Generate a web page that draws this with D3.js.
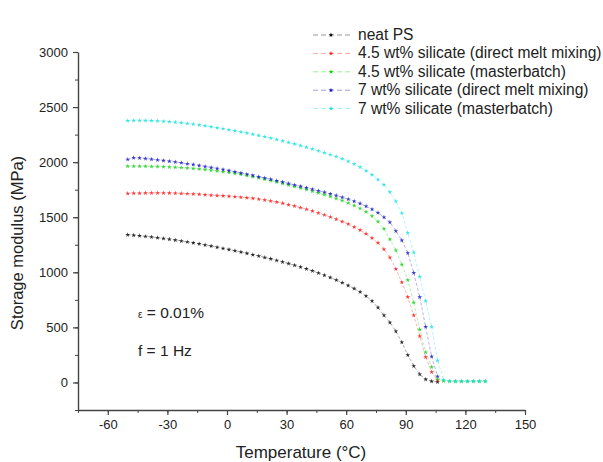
<!DOCTYPE html>
<html>
<head>
<meta charset="utf-8">
<title>Storage modulus</title>
<script src="https://d3js.org/d3.v7.min.js"></script>
<style>
  body { margin: 0; background: #fff; }
  text { font-family: "Liberation Sans", Arial, sans-serif; fill: #222; }
</style>
</head>
<body>
<script>
// temperatures (°C)
var temps = [-50,-47,-44,-41,-38,-35,-32,-29,-26,-23,-20,-17,-14,-11,-8,-5,-2,1,4,7,10,13,16,19,22,25,28,31,34,37,40,43,46,49,52,55,58,61,64,67,70,73,76,79,82,85,88,91,94,97,100,103,106];
var tailTemps = [109,112,115,118,121,124,127,130];

var neatPS = [1340,1336,1331,1326,1320,1314,1307,1300,1292,1284,1276,1267,1258,1248,1238,1228,1217,1206,1195,1184,1172,1160,1148,1135,1122,1108,1094,1079,1064,1048,1031,1013,994,974,953,930,906,880,852,822,785,740,680,610,545,465,365,250,150,75,28,10,4];
var direct45 = [1715,1717,1718,1719,1720,1720,1720,1719,1718,1716,1714,1711,1708,1704,1700,1697,1694,1690,1686,1682,1677,1671,1664,1656,1647,1637,1626,1614,1601,1587,1572,1556,1539,1521,1502,1482,1460,1438,1412,1383,1350,1312,1268,1210,1135,1030,910,775,610,420,230,95,20];
var master45 = [1962,1963,1963,1962,1961,1960,1958,1956,1953,1950,1946,1942,1937,1932,1926,1920,1913,1906,1898,1889,1879,1868,1857,1845,1832,1819,1806,1792,1779,1765,1751,1736,1721,1705,1688,1670,1651,1630,1606,1580,1550,1510,1460,1395,1300,1200,1070,930,725,480,275,140,30];
var master45Tail = [12,10,10,10,10,10,10,10];
var direct7 = [2025,2040,2038,2032,2026,2020,2014,2008,2001,1994,1986,1978,1970,1961,1952,1943,1933,1923,1913,1902,1891,1880,1868,1856,1845,1832,1819,1806,1793,1780,1767,1754,1740,1726,1712,1697,1681,1664,1645,1624,1600,1572,1540,1500,1455,1375,1290,1175,995,775,505,235,55];
var master7 = [2375,2378,2378,2377,2375,2373,2370,2366,2362,2357,2351,2345,2338,2330,2322,2313,2304,2294,2284,2274,2264,2253,2242,2230,2218,2205,2192,2178,2164,2150,2135,2119,2102,2085,2068,2050,2030,2008,1983,1955,1922,1885,1843,1795,1728,1645,1537,1356,1180,960,740,506,200];
var master7Tail = [25,12,10,10,10,10,10,10];

var seriesNames = ["neat PS", "4.5 wt% silicate (direct melt mixing)", "4.5 wt% silicate (masterbatch)", "7 wt% silicate (direct melt mixing)", "7 wt% silicate (masterbatch)"];
var seriesColors = ["#000000", "#ff1010", "#10d010", "#1010c0", "#10e0e0"];

var xTicks = [-60,-30,0,30,60,90,120,150];
var yTicks = [0,500,1000,1500,2000,2500,3000];

function pts(xs, ys) { return xs.map(function(t, i) { return [t, ys[i]]; }); }
var series = [
  pts(temps, neatPS),
  pts(temps, direct45),
  pts(temps.concat(tailTemps), master45.concat(master45Tail)),
  pts(temps, direct7),
  pts(temps.concat(tailTemps), master7.concat(master7Tail))
];

var W = 603, H = 462;
var svg = d3.select("body").append("svg").attr("width", W).attr("height", H);

var x = d3.scaleLinear().domain([-75, 150]).range([78, 525]);
var y = d3.scaleLinear().domain([-250, 3000]).range([410, 52]);

// minor ticks
svg.append("g").attr("transform", "translate(0,410)")
  .call(d3.axisBottom(x).tickValues(d3.range(-75, 151, 15)).tickSize(3).tickFormat(""))
  .call(function(g){ g.select(".domain").remove(); g.selectAll("line").attr("stroke", "#444"); });
svg.append("g").attr("transform", "translate(78,0)")
  .call(d3.axisLeft(y).tickValues(d3.range(-250, 3001, 250)).tickSize(3).tickFormat(""))
  .call(function(g){ g.select(".domain").remove(); g.selectAll("line").attr("stroke", "#444"); });

// major axes
var plain = function(d) { return String(d); };
var xAxis = svg.append("g").attr("transform", "translate(0,410)")
  .call(d3.axisBottom(x).tickValues(xTicks).tickSize(5).tickSizeOuter(0).tickPadding(5).tickFormat(plain));
var yAxis = svg.append("g").attr("transform", "translate(78,0)")
  .call(d3.axisLeft(y).tickValues(yTicks).tickSize(5).tickSizeOuter(0).tickPadding(5).tickFormat(plain));
[xAxis, yAxis].forEach(function(g) {
  g.select(".domain").attr("stroke", "#444").attr("stroke-width", 1.4);
  g.selectAll("line").attr("stroke", "#444").attr("stroke-width", 1.2);
  g.selectAll("text").attr("font-size", 13).attr("fill", "#444");
});

// axis titles
svg.append("text").attr("x", 301).attr("y", 458).attr("text-anchor", "middle")
  .attr("font-size", 17).text("Temperature (°C)");
svg.append("text").attr("transform", "translate(23,243) rotate(-90)").attr("text-anchor", "middle")
  .attr("font-size", 16.5).text("Storage modulus (MPa)");

// curves
var line = d3.line().x(function(d){ return x(d[0]); }).y(function(d){ return y(d[1]); });
var sym = d3.symbol().type(d3.symbolStar).size(7);

series.forEach(function(s, i) {
  svg.append("path").datum(s).attr("d", line)
    .attr("fill", "none").attr("stroke", seriesColors[i]).attr("stroke-width", 0.8)
    .attr("stroke-dasharray", "3,2").attr("opacity", 0.4);
  svg.append("g").selectAll("path").data(s).enter().append("path")
    .attr("transform", function(d){ return "translate(" + x(d[0]) + "," + y(d[1]) + ")"; })
    .attr("d", sym).attr("fill", seriesColors[i]).attr("opacity", 0.8);
});

// legend
var lg = svg.append("g");
seriesNames.forEach(function(name, i) {
  var ly = 35 + i * 18.4;
  lg.append("line").attr("x1", 313).attr("x2", 353).attr("y1", ly).attr("y2", ly)
    .attr("stroke", seriesColors[i]).attr("stroke-width", 0.8).attr("stroke-dasharray", "5,3").attr("opacity", 0.5);
  lg.append("path").attr("transform", "translate(331," + ly + ")").attr("d", sym).attr("fill", seriesColors[i]);
  lg.append("text").attr("x", 358).attr("y", ly + 5).attr("font-size", 15.6).text(name);
});

// annotations
var eps = svg.append("text").attr("x", 138).attr("y", 318).attr("font-size", 15.5);
eps.append("tspan").attr("font-size", 10).text("ε");
eps.append("tspan").text(" = 0.01%");
svg.append("text").attr("x", 138).attr("y", 356).attr("font-size", 15.5).text("f = 1 Hz");
</script>
</body>
</html>
